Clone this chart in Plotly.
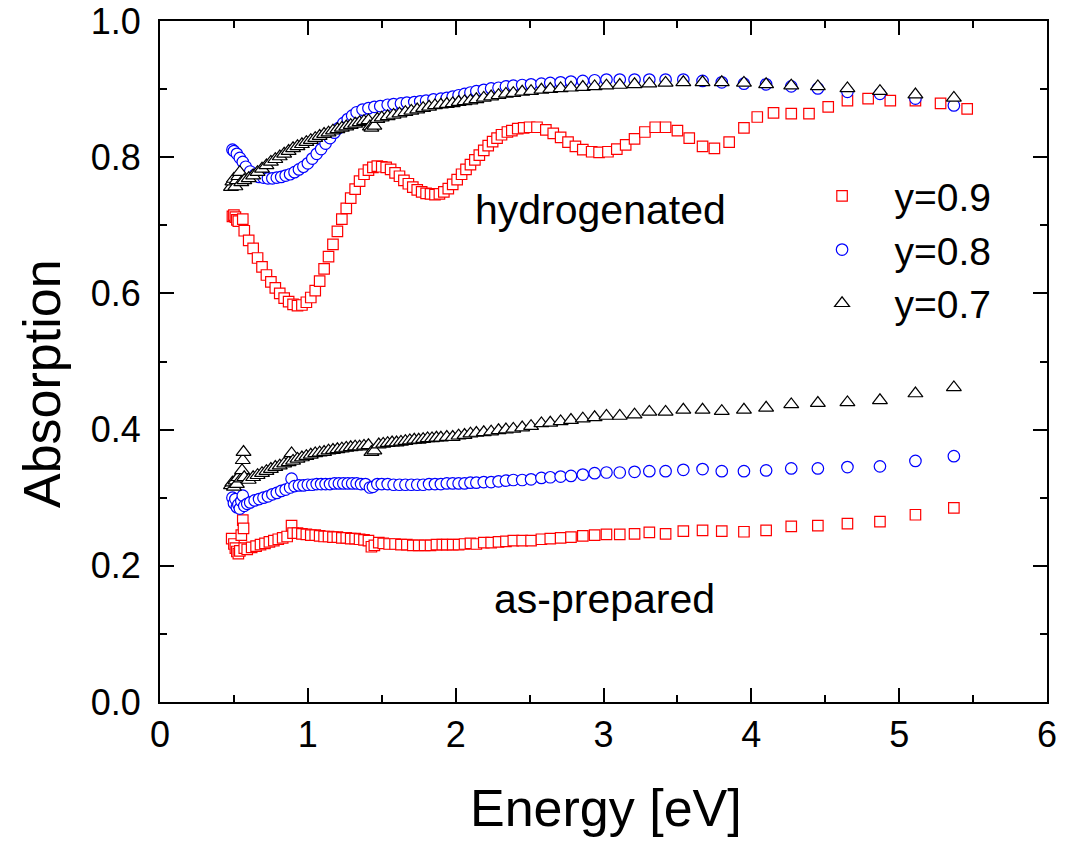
import plotly.graph_objects as go

# ---------------- data: hydrogenated ----------------
h09_e = [0.49, 0.50, 0.51, 0.52, 0.53, 0.56, 0.57, 0.60, 0.63, 0.66, 0.69, 0.72, 0.75, 0.78, 0.81,
         0.84, 0.87, 0.90, 0.93, 0.96, 0.99, 1.02, 1.05, 1.08, 1.11, 1.14, 1.17, 1.20, 1.23, 1.26,
         1.29, 1.32, 1.35, 1.38, 1.41, 1.44, 1.47, 1.50, 1.53, 1.56, 1.59, 1.62, 1.65, 1.68, 1.71,
         1.74, 1.77, 1.80, 1.83, 1.86, 1.89, 1.92, 1.95, 1.98, 2.01, 2.04, 2.07, 2.10, 2.13, 2.16,
         2.19, 2.22, 2.25, 2.28, 2.31, 2.35, 2.38, 2.42, 2.46, 2.50, 2.55, 2.61, 2.66, 2.71, 2.76,
         2.81, 2.86, 2.92, 2.97, 3.03, 3.09, 3.15, 3.21, 3.28, 3.35, 3.42, 3.50, 3.58, 3.67, 3.75,
         3.85, 3.95, 4.04, 4.15, 4.27, 4.39, 4.52, 4.65, 4.79, 4.94, 5.11, 5.28, 5.46]
h09_a = [0.713, 0.715, 0.712, 0.708, 0.706, 0.709, 0.692, 0.678, 0.666, 0.652, 0.639, 0.627, 0.617, 0.608, 0.600,
         0.593, 0.588, 0.584, 0.582, 0.583, 0.587, 0.594, 0.604, 0.618, 0.636, 0.654, 0.672, 0.691, 0.709, 0.725,
         0.740, 0.753, 0.765, 0.775, 0.781, 0.785, 0.787, 0.786, 0.785, 0.782, 0.777, 0.772, 0.766, 0.761, 0.756,
         0.752, 0.749, 0.747, 0.746, 0.745, 0.746, 0.749, 0.754, 0.760, 0.767, 0.775, 0.782, 0.789, 0.796, 0.803,
         0.810, 0.817, 0.823, 0.828, 0.833, 0.837, 0.839, 0.842, 0.843, 0.844, 0.844, 0.840, 0.835, 0.829, 0.822,
         0.816, 0.811, 0.808, 0.807, 0.808, 0.812, 0.818, 0.827, 0.837, 0.844, 0.844, 0.839, 0.828, 0.816, 0.813,
         0.822, 0.843, 0.859, 0.865, 0.864, 0.864, 0.874, 0.883, 0.886, 0.883, 0.883, 0.879, 0.871]

h08_e = [0.49, 0.50, 0.52, 0.54, 0.56, 0.58, 0.61, 0.64, 0.67, 0.70, 0.73, 0.76, 0.79, 0.82, 0.85,
         0.88, 0.91, 0.94, 0.97, 1.00, 1.03, 1.06, 1.09, 1.12, 1.15, 1.18, 1.21, 1.24, 1.27, 1.30,
         1.33, 1.37, 1.41, 1.45, 1.49, 1.54, 1.58, 1.63, 1.67, 1.72, 1.76, 1.80, 1.85, 1.90, 1.94,
         1.98, 2.02, 2.06, 2.10, 2.14, 2.19, 2.24, 2.29, 2.34, 2.39, 2.45, 2.51, 2.58, 2.64, 2.71,
         2.78, 2.86, 2.94, 3.02, 3.11, 3.21, 3.31, 3.42, 3.54, 3.67, 3.80, 3.95, 4.10, 4.27, 4.45,
         4.65, 4.87, 5.11, 5.37]
h08_a = [0.811, 0.809, 0.805, 0.799, 0.793, 0.786, 0.779, 0.774, 0.771, 0.770, 0.769, 0.769, 0.770, 0.771, 0.773,
         0.775, 0.778, 0.782, 0.786, 0.791, 0.798, 0.805, 0.812, 0.820, 0.828, 0.836, 0.843, 0.850, 0.856, 0.861,
         0.866, 0.870, 0.872, 0.874, 0.875, 0.877, 0.878, 0.879, 0.880, 0.881, 0.882, 0.883, 0.885, 0.886, 0.887,
         0.889, 0.891, 0.893, 0.895, 0.897, 0.899, 0.901, 0.902, 0.904, 0.905, 0.906, 0.907, 0.908, 0.909, 0.910,
         0.911, 0.912, 0.913, 0.914, 0.914, 0.914, 0.914, 0.914, 0.914, 0.912, 0.910, 0.908, 0.907, 0.904, 0.901,
         0.896, 0.893, 0.886, 0.876]

h07_e = [0.48, 0.49, 0.50, 0.51, 0.52, 0.53, 0.54, 0.55, 0.57, 0.60, 0.63, 0.66, 0.69, 0.72, 0.75,
         0.78, 0.81, 0.84, 0.87, 0.90, 0.93, 0.96, 0.99, 1.02, 1.05, 1.08, 1.11, 1.14, 1.17, 1.20,
         1.23, 1.26, 1.29, 1.32, 1.35, 1.38, 1.41, 1.42, 1.43, 1.45, 1.47, 1.50, 1.54, 1.58, 1.62,
         1.66, 1.70, 1.74, 1.78, 1.82, 1.86, 1.90, 1.94, 1.98, 2.02, 2.06, 2.10, 2.14, 2.19, 2.24,
         2.29, 2.34, 2.39, 2.45, 2.51, 2.58, 2.64, 2.71, 2.78, 2.86, 2.94, 3.02, 3.11, 3.21, 3.31,
         3.42, 3.54, 3.67, 3.80, 3.95, 4.10, 4.27, 4.45, 4.65, 4.87, 5.11, 5.37]
h07_a = [0.756, 0.764, 0.768, 0.757, 0.766, 0.772, 0.778, 0.763, 0.766, 0.769, 0.773, 0.778, 0.783, 0.788, 0.793,
         0.797, 0.801, 0.805, 0.809, 0.813, 0.816, 0.819, 0.822, 0.825, 0.828, 0.831, 0.834, 0.836, 0.839, 0.841,
         0.843, 0.845, 0.847, 0.849, 0.851, 0.853, 0.854, 0.845, 0.843, 0.846, 0.856, 0.858, 0.860, 0.862, 0.864,
         0.866, 0.868, 0.870, 0.872, 0.874, 0.876, 0.877, 0.878, 0.879, 0.881, 0.882, 0.883, 0.885, 0.887, 0.889,
         0.891, 0.893, 0.894, 0.896, 0.897, 0.899, 0.900, 0.901, 0.902, 0.903, 0.904, 0.905, 0.906, 0.907, 0.908,
         0.909, 0.910, 0.910, 0.910, 0.909, 0.907, 0.905, 0.904, 0.901, 0.897, 0.892, 0.887]

# ---------------- data: as-prepared ----------------
p09_e = [0.485, 0.50, 0.51, 0.52, 0.53, 0.54, 0.55, 0.56, 0.565, 0.57, 0.59, 0.62, 0.65, 0.68, 0.71,
         0.74, 0.77, 0.80, 0.83, 0.86, 0.89, 0.90, 0.93, 0.96, 0.99, 1.02, 1.05, 1.08, 1.11, 1.14,
         1.17, 1.20, 1.23, 1.26, 1.29, 1.32, 1.35, 1.38, 1.41, 1.43, 1.45, 1.48, 1.51, 1.55, 1.59,
         1.63, 1.67, 1.71, 1.75, 1.79, 1.83, 1.87, 1.91, 1.94, 1.98, 2.02, 2.06, 2.10, 2.14, 2.19,
         2.24, 2.29, 2.34, 2.39, 2.45, 2.51, 2.58, 2.64, 2.71, 2.78, 2.86, 2.94, 3.02, 3.11, 3.21,
         3.31, 3.42, 3.54, 3.67, 3.80, 3.95, 4.10, 4.27, 4.45, 4.65, 4.87, 5.11, 5.37]
p09_a = [0.240, 0.232, 0.226, 0.221, 0.218, 0.222, 0.245, 0.267, 0.255, 0.226, 0.224, 0.227, 0.229, 0.231, 0.233,
         0.235, 0.237, 0.239, 0.241, 0.243, 0.259, 0.248, 0.248, 0.247, 0.246, 0.245, 0.245, 0.244, 0.243, 0.243,
         0.242, 0.242, 0.241, 0.241, 0.240, 0.240, 0.239, 0.238, 0.237, 0.228, 0.230, 0.234, 0.233, 0.232, 0.232,
         0.231, 0.231, 0.230, 0.230, 0.230, 0.230, 0.231, 0.231, 0.231, 0.231, 0.231, 0.232, 0.233, 0.232, 0.234,
         0.234, 0.235, 0.236, 0.237, 0.237, 0.237, 0.239, 0.240, 0.241, 0.242, 0.244, 0.245, 0.246, 0.246, 0.247,
         0.249, 0.247, 0.251, 0.252, 0.251, 0.250, 0.252, 0.258, 0.259, 0.262, 0.265, 0.275, 0.285]

p08_e = [0.49, 0.50, 0.51, 0.52, 0.53, 0.54, 0.55, 0.56, 0.57, 0.59, 0.61, 0.64, 0.67, 0.70, 0.73,
         0.76, 0.79, 0.82, 0.85, 0.88, 0.89, 0.91, 0.94, 0.97, 1.00, 1.03, 1.06, 1.09, 1.12, 1.15,
         1.18, 1.21, 1.24, 1.27, 1.30, 1.33, 1.36, 1.39, 1.42, 1.44, 1.47, 1.50, 1.54, 1.58, 1.62,
         1.66, 1.70, 1.74, 1.78, 1.82, 1.86, 1.90, 1.94, 1.98, 2.02, 2.06, 2.10, 2.14, 2.19, 2.24,
         2.29, 2.34, 2.39, 2.45, 2.51, 2.58, 2.64, 2.71, 2.78, 2.86, 2.94, 3.02, 3.11, 3.21, 3.31,
         3.42, 3.54, 3.67, 3.80, 3.95, 4.10, 4.27, 4.45, 4.65, 4.87, 5.11, 5.37]
p08_a = [0.300, 0.292, 0.298, 0.286, 0.290, 0.284, 0.295, 0.303, 0.288, 0.291, 0.293, 0.296, 0.298, 0.300, 0.302,
         0.305, 0.307, 0.310, 0.312, 0.315, 0.328, 0.317, 0.318, 0.318, 0.319, 0.319, 0.320, 0.320, 0.320, 0.320,
         0.321, 0.321, 0.321, 0.321, 0.321, 0.321, 0.320, 0.320, 0.315, 0.316, 0.320, 0.320, 0.320, 0.319, 0.319,
         0.319, 0.319, 0.319, 0.319, 0.320, 0.320, 0.320, 0.321, 0.321, 0.321, 0.321, 0.322, 0.322, 0.323, 0.323,
         0.324, 0.325, 0.326, 0.326, 0.327, 0.329, 0.330, 0.331, 0.332, 0.334, 0.336, 0.337, 0.337, 0.338, 0.339,
         0.339, 0.341, 0.342, 0.339, 0.339, 0.340, 0.343, 0.343, 0.345, 0.346, 0.354, 0.361]

p07_e = [0.48, 0.49, 0.50, 0.51, 0.52, 0.53, 0.55, 0.555, 0.56, 0.565, 0.57, 0.60, 0.63, 0.66, 0.69,
         0.72, 0.75, 0.78, 0.81, 0.84, 0.87, 0.89, 0.90, 0.93, 0.96, 0.99, 1.02, 1.05, 1.08, 1.11,
         1.14, 1.17, 1.20, 1.23, 1.26, 1.29, 1.32, 1.35, 1.38, 1.41, 1.43, 1.45, 1.48, 1.51, 1.54,
         1.57, 1.60, 1.63, 1.66, 1.69, 1.72, 1.75, 1.78, 1.81, 1.84, 1.87, 1.90, 1.94, 1.98, 2.02,
         2.06, 2.10, 2.14, 2.19, 2.24, 2.29, 2.34, 2.39, 2.45, 2.51, 2.58, 2.64, 2.71, 2.78, 2.86,
         2.94, 3.02, 3.11, 3.21, 3.31, 3.42, 3.54, 3.67, 3.80, 3.95, 4.10, 4.27, 4.45, 4.65, 4.87,
         5.11, 5.37]
p07_a = [0.318, 0.322, 0.316, 0.325, 0.320, 0.330, 0.328, 0.340, 0.355, 0.367, 0.330, 0.326, 0.330, 0.333, 0.336,
         0.339, 0.342, 0.345, 0.347, 0.350, 0.352, 0.365, 0.354, 0.357, 0.359, 0.361, 0.363, 0.365, 0.366, 0.367,
         0.369, 0.370, 0.371, 0.372, 0.373, 0.374, 0.375, 0.375, 0.376, 0.377, 0.367, 0.369, 0.378, 0.379, 0.380,
         0.381, 0.381, 0.382, 0.383, 0.384, 0.385, 0.385, 0.386, 0.387, 0.387, 0.388, 0.388, 0.389, 0.389, 0.391,
         0.392, 0.394, 0.395, 0.396, 0.397, 0.399, 0.400, 0.401, 0.403, 0.405, 0.409, 0.410, 0.412, 0.414, 0.416,
         0.418, 0.420, 0.420, 0.422, 0.426, 0.426, 0.429, 0.429, 0.427, 0.429, 0.432, 0.437, 0.439, 0.440, 0.443,
         0.453, 0.462]

series_names = ["y=0.9", "y=0.8", "y=0.7"]
x_ticks = [0, 1, 2, 3, 4, 5, 6]
y_ticks = [0.0, 0.2, 0.4, 0.6, 0.8, 1.0]
y_ticklabels = ["0.0", "0.2", "0.4", "0.6", "0.8", "1.0"]

FONT = "Liberation Sans, Arial, Helvetica, sans-serif"
RED, BLUE, BLACK = "#ff0000", "#0000ff", "#000000"

styles = [
    dict(symbol="square", size=10.5, color=RED),
    dict(symbol="circle", size=11.5, color=BLUE),
    dict(symbol="triangle-up", size=13, color=BLACK),
]

fig = go.Figure()
gap = "\u00a0\u00a0\u00a0"

hyd = [(h09_e, h09_a), (h08_e, h08_a), (h07_e, h07_a)]
prep = [(p09_e, p09_a), (p08_e, p08_a), (p07_e, p07_a)]

for (ex, ay), st, nm in zip(prep, styles, series_names):
    fig.add_trace(go.Scatter(
        x=ex, y=ay, mode="markers", name=gap + nm, showlegend=False, legendgroup=nm,
        marker=dict(symbol=st["symbol"], size=st["size"], color="white",
                    line=dict(color=st["color"], width=1.2)),
    ))
for (ex, ay), st, nm in zip(hyd, styles, series_names):
    fig.add_trace(go.Scatter(
        x=ex, y=ay, mode="markers", name=gap + nm, showlegend=True, legendgroup=nm,
        marker=dict(symbol=st["symbol"], size=st["size"], color="white",
                    line=dict(color=st["color"], width=1.2)),
    ))

axis_common = dict(
    showline=True, linecolor="black", linewidth=2, mirror="ticks",
    ticks="inside", ticklen=14, tickwidth=2, tickcolor="black",
    showgrid=False, zeroline=False,
    tickfont=dict(family=FONT, size=36, color="black"),
)

fig.update_xaxes(
    range=[0, 6], tickvals=x_ticks, ticktext=[str(v) for v in x_ticks],
    minor=dict(dtick=0.5, ticks="inside", ticklen=7, tickwidth=2, tickcolor="black", showgrid=False),
    **axis_common,
)
fig.update_yaxes(
    range=[0, 1.0], tickvals=y_ticks, ticktext=[t + "\u00a0" for t in y_ticklabels],
    minor=dict(dtick=0.1, ticks="inside", ticklen=7, tickwidth=2, tickcolor="black", showgrid=False),
    **axis_common,
)

# top frame edge (paper-referenced, 1 px above the plot area)
fig.add_shape(type="line", xref="paper", yref="paper", x0=0, x1=1,
              ysizemode="pixel", yanchor=1, y0=1, y1=1,
              line=dict(color="black", width=2), layer="above")

fig.add_annotation(text="Energy [eV]", xref="paper", yref="paper", x=0.503, y=-0.156,
                   xanchor="center", yanchor="middle", showarrow=False,
                   font=dict(family=FONT, size=52, color="black"))
fig.add_annotation(text="Absorption", xref="paper", yref="paper", x=-0.133, y=0.467,
                   xanchor="center", yanchor="middle", showarrow=False, textangle=-90,
                   font=dict(family=FONT, size=52, color="black"))
fig.add_annotation(text="hydrogenated", xref="x", yref="y", x=2.98, y=0.722,
                   xanchor="center", yanchor="middle", showarrow=False,
                   font=dict(family=FONT, size=41, color="black"))
fig.add_annotation(text="as-prepared", xref="x", yref="y", x=3.01, y=0.151,
                   xanchor="center", yanchor="middle", showarrow=False,
                   font=dict(family=FONT, size=41, color="black"))

# figure is 20 px taller at the top; the page shifts it up by 20 px so the
# plot area sits at the same place as in the reference
fig.update_layout(
    width=1069, height=861,
    margin=dict(l=160, r=22, t=41, b=139),
    paper_bgcolor="white", plot_bgcolor="white",
    font=dict(family=FONT, color="black"),
    showlegend=True,
    legend=dict(x=0.7464, y=0.79, xanchor="left", yanchor="top",
                bgcolor="rgba(0,0,0,0)", borderwidth=0,
                font=dict(family=FONT, size=39, color="black"),
                traceorder="normal", tracegroupgap=0),
)

fig.write_html(
    "out.html",
    config={"displayModeBar": False},
    post_script=(
        "document.body.style.margin='0';document.body.style.overflow='hidden';"
        "var d=document.getElementById('{plot_id}');if(d){d.style.marginTop='-20px';}"
    ),
)
